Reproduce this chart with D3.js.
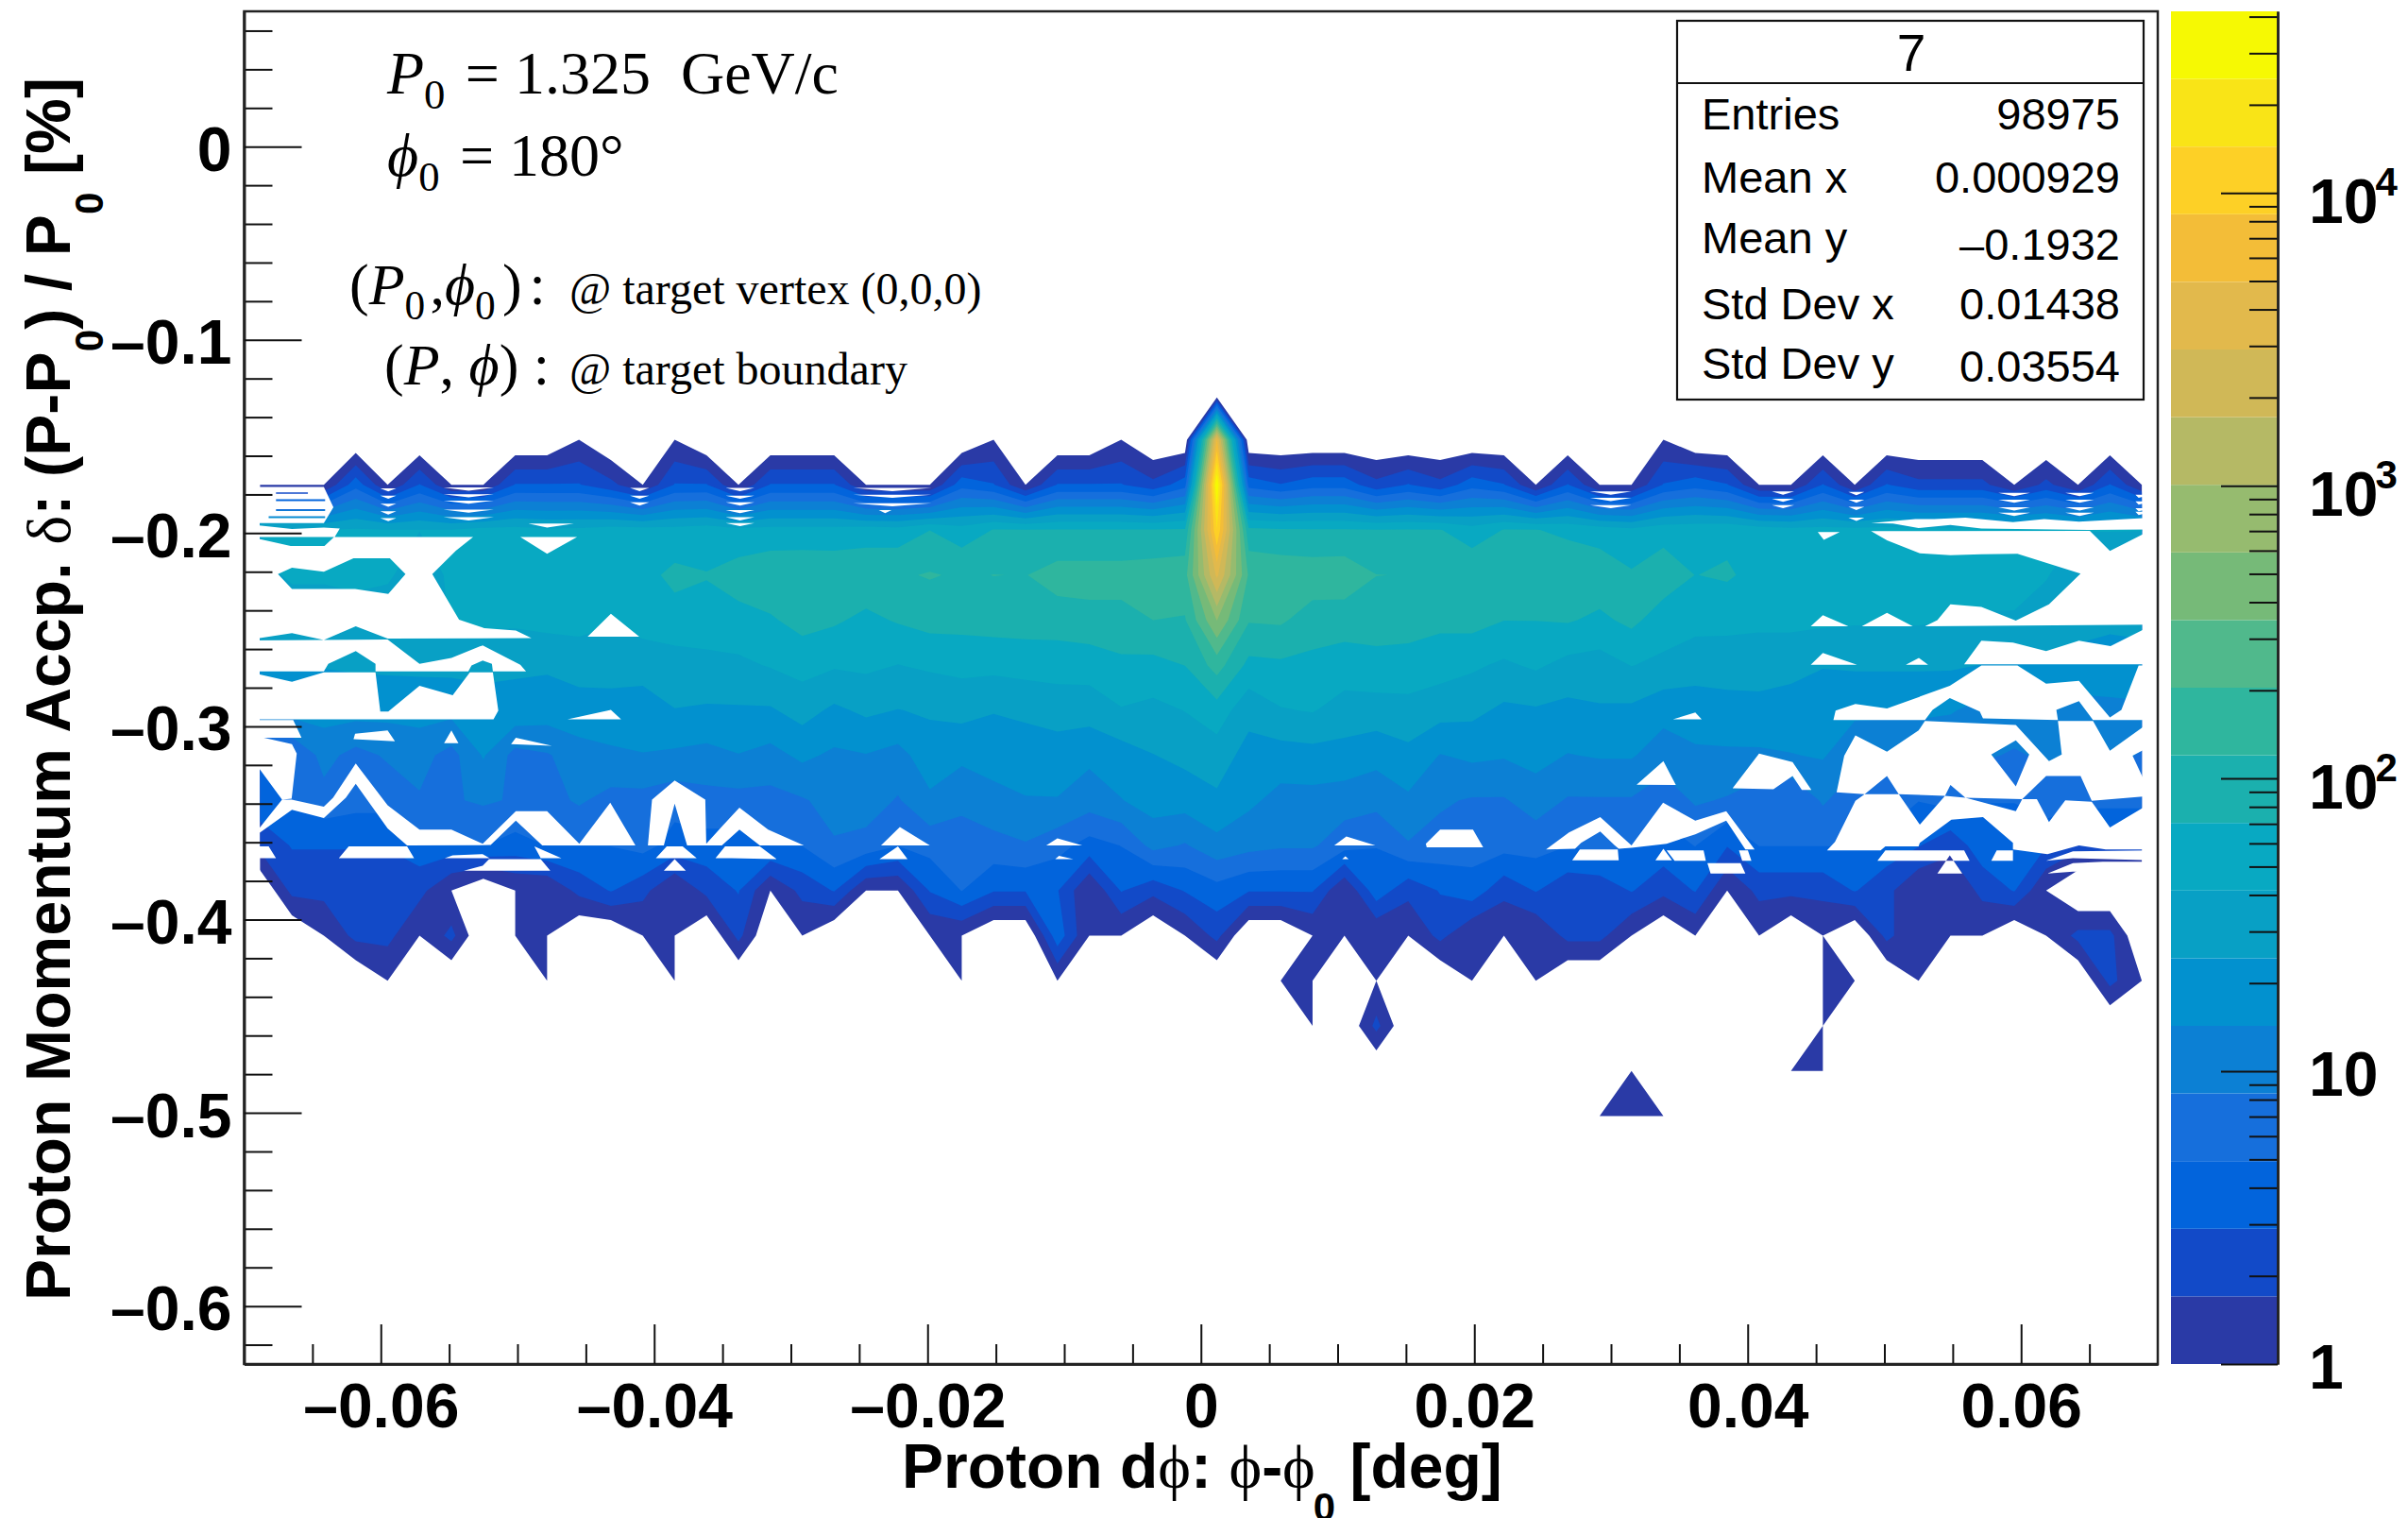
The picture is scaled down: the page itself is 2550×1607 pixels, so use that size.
<!DOCTYPE html>
<html>
<head>
<meta charset="utf-8">
<script src="https://cdn.jsdelivr.net/npm/d3@7"></script>
<style>
  body { margin: 0; background: #fff; }
  svg { display: block; }
</style>
</head>
<body>
<div id="chart"></div>
<script>
// bin contents (60 columns in dphi, rows counted from the top of the 30 delta bins)
var row09 = [0,0,0,0,0,0,0,0,0,0,1,0,0,1,0, 0,0,0,0,0,0,0,0,1,0,0,0,1,0,0,5000,0,0,0,0,0,0,0,0,0,0,0,0,0,1, 0,0,0,0,0,0,0,0,0,0,0,0,0,0,0];
var row10 = [1,1,1,4,1,3,1,1,3,3,3,2,1,3,3, 1,3,3,3,1,1,1,4,3,1,3,3,3,2,4,41000,4,3,4,4,2,3,2,4,3,1,3,1,1,3, 4,3,1,1,3,1,3,2,2,2,1,2,1,3,1];
var row11 = [42,42,42,44,42,42,42,50,50,45,46,52,52,50,55, 48,50,50,50,55,52,70,52,72,72,73,73,73,73,75,14000,80,75,74,74,72,72,72,52,72,72,62,55,47,58, 60,62,55,50,50,50,50,48,48,48,48,46,42,42,42];
var row12 = [35,45,45,50,45,30,46,55,60,55,58,60,60,80,72, 90,105,108,105,103,112,125,112,121,118,150,150,150,160,170,3300,190,175,165,170,121,118,115,110,118,118,110,100,75,95, 70,75,60,58,55,52,50,50,48,47,47,43,30,30,25];
var row13 = [30,30,30,30,30,30,43,45,46,50,52,44,52,58,60, 59,66,85,76,62,74,85,85,89,91,93,100,100,120,115,600,125,130,93,89,90,90,80,85,71,71,74,63,80,54, 50,50,48,48,46,44,44,44,42,40,40,32,30,28,28];
var row14 = [25,25,25,26,27,27,28,30,26,26,28,30,30,32,34, 37,43,50,44,46,41,45,48,48,50,50,52,63,60,71,150,61,64,61,55,59,56,52,45,38,45,35,33,42,37, 30,29,28,28,25,26,26,26,26,24,24,22,20,18,20];
var row15 = [18,18,18,18,17,18,17,18,21,19,21,20,19,24,23, 23,23,30,22,27,24,26,29,25,28,32,31,40,36,42,56,29,40,43,33,33,35,30,28,22,23,21,23,22,17, 19,21,22,20,18,16,16,16,15,12,11,11,12,13,13];
var row16 = [4,5,10,7,9,10,7,15,7,8,11,13,14,13,12, 14,12,16,13,14,12,19,16,18,17,18,16,19,24,28,32,20,19,20,20,17,21,14,16,15,17,14,15,15,11, 13,13,13,14,15,10,9,9,9,9,8,9,8,10,8];
var row17 = [4,5,7,6,6,8,8,9,8,7,9,7,7,6,7, 7,7,8,10,11,8,13,10,12,14,14,11,14,18,18,22,16,12,12,11,10,13,9,8,8,11,8,8,8,6, 9,8,6,5,9,6,7,5,6,5,5,7,6,6,6];
var row18 = [2,3,3,3,3,4,4,5,4,5,5,5,6,4,4, 4,5,5,8,7,5,6,6,7,8,6,4,5,10,8,12,10,9,9,6,5,8,7,6,6,6,5,6,5,4, 5,3,5,5,5,5,4,3,2,4,4,3,2,2,2];
var row19 = [0,2,2,2,2,2,1,0,1,1,2,3,2,1,2, 3,1,2,3,1,1,3,5,3,3,3,1,3,2,3,4,3,3,3,1,4,2,3,4,2,3,2,2,3,2, 3,1,2,2,2,3,2,1,1,2,3,1,0,0,0];
var row20 = [0,0,1,2,2,1,2,0,1,1,0,0,1,1,0, 2,0,1,0,0,0,1,1,0,0,4,1,1,0,1,2,0,0,1,1,1,1,2,1,1,1,2,2,1,0, 1,0,1,0,1,0,2,1,1,1,0,1,2,2,0];
var row21 = [0,0,0,0,1,0,0,0,0,1,0,0,0,1,0, 0,0,0,0,0,0,0,1,0,0,1,0,0,0,0,0,1,1,1,0,1,0,0,1,0,1,0,0,0,0, 0,0,0,0,1,1,0,1,0,0,0,0,0,2,1];
var row22 = [0,0,0,0,0,0,0,0,0,0,0,0,0,0,0, 0,0,0,0,0,0,0,0,0,0,0,0,0,0,0,0,0,0,1,0,2,0,0,0,0,0,0,0,0,0, 0,0,0,0,1,0,0,0,0,0,0,0,0,0,0];
var row23 = [0,0,0,0,0,0,0,0,0,0,0,0,0,0,0, 0,0,0,0,0,0,0,0,0,0,0,0,0,0,0,0,0,0,0,0,0,0,0,0,0,0,0,0,1,0, 0,0,0,1,1,0,0,0,0,0,0,0,0,0,0];
var row24 = [0,0,0,0,0,0,0,0,0,0,0,0,0,0,0, 0,0,0,0,0,0,0,0,0,0,0,0,0,0,0,0,0,0,0,0,0,0,0,0,0,0,0,1,1,1, 0,0,0,0,0,0,0,0,0,0,0,0,0,0,0];
var filledRows = [[9,row09],[10,row10],[11,row11],[12,row12],[13,row13],[14,row14],[15,row15],[16,row16],[17,row17],[18,row18],[19,row19],[20,row20],[21,row21],[22,row22],[23,row23],[24,row24]];

// gaps the contour fill leaves open, as [column, row] outlines
var emptyGaps = [
  [[0,10.05],[2,10.05],[2.3,10.5],[2,10.85],[0,10.85]],
  [[.5,10.17],[1.5,10.17],[1.5,10.2],[.5,10.2]],
  [[.5,10.32],[2.04,10.32],[2.04,10.36],[.5,10.36]],
  [[.5,10.54],[2.04,10.54],[2.04,10.58],[.5,10.58]],
  [[.27,10.7],[2.04,10.7],[2.04,10.74],[.27,10.74]],
  [[0,10.88],[1,10.98],[2,10.95],[2.5,10.97],[2.34,11.16],[0,11.16]],
  [[0,11.16],[.96,11.36],[2.02,11.36],[2.32,11.16],[6.68,11.16],[6.14,11.46],[5.4,11.98],[6.24,12.99],[7.03,13.18],[8.02,13.23],[8.51,13.4],[4,13.41],[3,13.14],[2,13.44],[1,13.29],[0,13.43]],
  [[.56,11.98],[1,11.84],[2,11.93],[2.93,11.63],[4.07,11.63],[4.56,11.98],[4.02,12.42],[2.98,12.31],[1,12.31]],
  [[8.16,11.16],[9.94,11.16],[9,11.53]],
  [[8.41,10.86],[9.84,10.86],[9,10.95]],
  [[0,13.45],[4,13.43],[5,13.97],[6,13.84],[6.98,13.56],[8.16,13.99],[8.34,14.14],[7.3,14.14],[7.27,13.97],[6.98,13.9],[6.63,14.01],[6.53,14.14],[3.62,14.14],[3.62,13.97],[3,13.69],[2.14,13.97],[2,14.14],[0,14.14]],
  [[0,14.16],[1,14.37],[2,14.16],[3.62,14.16],[3.77,15.03],[4.02,15.03],[5,14.46],[6.04,14.67],[6.58,14.16],[7.3,14.16],[7.47,15.01],[7.32,15.2],[0,15.2]],
  [[0,15.22],[1.04,15.22],[1.3,15.61],[.12,15.61],[1,15.75],[1.15,15.96],[.99,16.96],[.69,16.98],[0,16.03]],
  [[2.93,15.64],[2.98,15.52],[4,15.45],[4.23,15.69]],
  [[5.77,15.73],[6,15.45],[6.22,15.73]],
  [[7.87,15.75],[8.02,15.61],[9.15,15.79]],
  [[9.64,15.2],[11,14.99],[11.32,15.2]],
  [[10.27,13.37],[11,12.86],[11.89,13.37]],
  [[0,17.86],[.69,16.98],[.99,16.98],[2,17.14],[2.29,16.94],[3,16.18],[4,17.11],[5,17.65],[6,17.65],[6.98,17.96],[8.02,17.24],[9,17.24],[10.01,17.96],[10.98,17.05],[11.77,18],[8.85,18],[8.02,17.45],[7.23,17.99],[4.61,18],[4,17.62],[3,16.63],[2.69,16.94],[2,17.39],[1,17.21]],
  [[12.16,18],[12.29,16.98],[13,16.56],[13.96,16.98],[13.99,17.96],[14.48,17.58],[15.03,17.16],[15.93,17.65],[17.05,18],[15.67,18],[15.03,17.65],[14.48,18],[13.39,18],[13,17.07],[12.66,18]],
  [[0,18.02],[.27,18.02],[.5,18.28],[0,18.28]],
  [[2.47,18.28],[2.78,18.02],[4.61,18.02],[4.83,18.28]],
  [[5.79,18.28],[6.04,18.22],[6.98,18.19],[7.2,18.28]],
  [[8.6,18.02],[9.45,18.28],[8.8,18.28]],
  [[6.39,18.56],[6.98,18.45],[7.18,18.3],[8.8,18.3],[9.1,18.56]],
  [[12.41,18.28],[12.75,18.02],[13.25,18.02],[13.69,18.28]],
  [[12.66,18.56],[13,18.3],[13.35,18.56]],
  [[14.28,18.28],[14.58,18.02],[15.67,18.02],[16.2,18.3],[14.78,18.28]],
  [[19.47,18],[20.06,17.59],[21,18]],
  [[19.42,18.3],[20,18.02],[20.3,18.3]],
  [[24.65,18],[25,17.84],[25.78,18]],
  [[24.93,18.3],[25.05,18.23],[25.5,18.3]],
  [[33.68,18],[34.06,17.8],[34.97,18]],
  [[36.58,18.04],[36.55,17.96],[37,17.65],[38.03,17.65],[38.35,18.04]],
  [[33.93,18.3],[34.03,18.24],[34.13,18.3]],
  [[40.32,18.09],[41.04,17.71],[42.02,17.37],[43,18],[43.99,17.05],[45,17.45],[45.97,17.24],[46.86,18.09],[46.57,18.09],[45.97,17.45],[45,17.75],[44.1,17.96],[43,18.05],[42.6,18.07],[42.46,17.99],[42.02,17.69],[41.42,17.94],[41.23,18.07]],
  [[43.16,16.65],[44,16.13],[44.39,16.66]],
  [[44.3,15.2],[45,15.05],[45.2,15.2]],
  [[46.17,16.73],[47,15.96],[48.05,16.15],[48.64,16.77],[48.34,16.77],[48.05,16.46],[47.45,16.75]],
  [[48.84,11.05],[49.53,11.05],[49.03,11.22]],
  [[50.51,11.03],[57.37,11.02],[58,11.47],[59,11],[59,13.1],[52.2,13.14],[52.59,13],[53,12.65],[53.97,12.71],[55.05,13.01],[56.09,12.65],[57.08,11.97],[55.1,11.53],[53.97,11.54],[53,11.56],[52.04,11.52],[51.01,11.23]],
  [[51.2,10.86],[52,10.96],[53,10.89],[53.97,10.97],[57.33,11],[59,10.99],[59,10.73],[57.03,10.82],[55.94,10.76],[54.96,10.83],[53.47,10.73],[52.49,10.76],[51.9,10.76],[50.51,10.85]],
  [[48.62,13.14],[49,12.89],[49.8,13.14]],
  [[50.22,13.14],[51.01,12.84],[51.82,13.14]],
  [[48.62,13.99],[49,13.73],[50.07,13.99]],
  [[51.6,13.99],[52.01,13.84],[52.3,13.99]],
  [[53.43,13.98],[53.97,13.46],[54.96,13.5],[56,13.69],[57.03,13.46],[58.02,13.58],[59,13.12],[59,13.98]],
  [[53.97,14.01],[55.1,14.01],[56,14.41],[57.03,14.35],[58,15.16],[58.36,14.99],[58.9,14.01],[59,14.01],[59,15.22],[57.47,15.22],[57.03,14.8],[56.32,14.99],[56.37,15.22],[54.02,15.18],[53.92,15.03],[52.98,14.73],[52.44,14.99],[52.2,15.22],[49.33,15.22],[49.4,15.01],[50.02,14.86],[51.01,14.96],[52.98,14.46]],
  [[49.67,16.01],[50.02,15.56],[51.01,15.92],[52,15.45],[52.2,15.24],[55.05,15.33],[56.09,16.13],[56.49,15.98],[56.37,15.24],[57.47,15.24],[58,15.9],[59,15.24],[59,15.79],[58.71,16.01],[59,16.9],[57.43,17.01],[57.08,16.46],[56,16.46],[55.25,16.97],[53.47,16.94],[53,16.66],[52.83,16.9],[51.38,16.86],[51.01,16.46],[50.31,16.86],[49.43,16.82]],
  [[54.28,15.98],[55.05,15.67],[55.47,15.98],[55.05,16.69]],
  [[50.02,17.01],[50.31,16.86],[51.38,16.86],[52.04,17.54],[52.83,16.9],[53.47,16.94],[55.05,17.24],[55.25,16.97],[55.71,16.97],[56.09,17.48],[56.6,17],[57.43,17.03],[58,17.6],[59,17.05],[59,18.09],[57.87,18.09],[57.03,18],[56.04,18.19],[54.96,18.09],[54.96,17.94],[54.02,17.37],[53.03,17.43],[52.04,17.94],[52,18.02],[50.96,18.02],[50.81,18.11],[49.13,18.11],[49.38,17.92]],
  [[44.1,18.11],[45.26,18.11],[45.33,18.34],[44.35,18.34]],
  [[46.37,18.11],[46.65,18.11],[46.76,18.34],[46.47,18.34]],
  [[45.38,18.39],[46.42,18.39],[46.57,18.62],[45.48,18.62]],
  [[50.71,18.34],[50.96,18.11],[53.43,18.11],[53.6,18.34]],
  [[52.59,18.62],[52.98,18.22],[53.37,18.62]],
  [[54.28,18.34],[54.45,18.11],[54.96,18.11],[54.96,18.34]],
  [[41.14,18.33],[41.38,18.09],[42.57,18.09],[42.6,18.33]],
  [[43.75,18.33],[44,18.07],[44.27,18.33]],
  [[56,18.34],[56.84,18.13],[59,18.11],[59,18.33],[56.84,18.28]],
  [[56.04,18.62],[56.84,18.39],[57.78,18.36],[59,18.36],[59,18.6],[56.84,18.58]]
];

// thin white streaks in the valleys of the top edge: first column, last column, rows
var valleyStreaks = [
  [3.77,4.27,[10.08,10.24,10.42,10.59,10.74]],
  [5.75,7.33,[10.06,10.21,10.35,10.55,10.72]],
  [11.6,12.2,[10.07,10.24,10.39]],
  [14.6,15.5,[10.07,10.24,10.39,10.56,10.72,10.85]],
  [18.6,21.05,[10.07,10.22,10.41]],
  [19.4,19.8,[10.56]],
  [41.7,43,[10.15,10.29,10.45]],
  [47.4,48.1,[10.15,10.31,10.45]],
  [49.8,50.3,[10.16,10.33,10.49,10.73]],
  [54.5,55.5,[10.18,10.33,10.5,10.62]],
  [56.6,57.5,[10.18,10.33,10.5,10.62]],
  [58.8,59,[10.22,10.37,10.52,10.6]]
];

var levelColors = ["#2a3aa6","#124ac8","#0264dc","#166fdc","#0c80d4","#0291cf","#08a0c5","#08a9c2","#1bb0ae","#2fb69e",
  "#50b98c","#76ba78","#96bb6f","#b5b965","#d0b857","#e2b94c","#f3bd38","#fdd026","#f9e417","#f6f903"];
var maxCount = 41700;

var xMajor = [-0.06,-0.04,-0.02,0,0.02,0.04,0.06];
var xMinor = [-0.065,-0.055,-0.05,-0.045,-0.035,-0.03,-0.025,-0.015,-0.01,-0.005,0.005,0.01,0.015,0.025,0.03,0.035,0.045,0.05,0.055,0.065];
var yMajor = [0,-0.1,-0.2,-0.3,-0.4,-0.5,-0.6];
var yMinor = [0.06,0.04,0.02,-0.02,-0.04,-0.06,-0.08,-0.12,-0.14,-0.16,-0.18,-0.22,-0.24,-0.26,-0.28,-0.32,-0.34,-0.36,-0.38,-0.42,-0.44,-0.46,-0.48,-0.52,-0.54,-0.56,-0.58,-0.62];
var zMajor = [1,10,100,1000,10000];
var zMinor = [2,3,4,5,6,7,8,9,20,30,40,50,60,70,80,90,200,300,400,500,600,700,800,900,2000,3000,4000,5000,6000,7000,8000,9000,20000,30000,40000];

var statLabels = ["Entries","Mean x","Mean y","Std Dev x","Std Dev y"];
var statValues = ["98975","0.000929","\u20130.1932","0.01438","0.03554"];

var width = 2550, height = 1607;
var sans = "'Liberation Sans', Arial, sans-serif";
var serif = "'Liberation Serif', 'Times New Roman', serif";

function chart() {
    var svg = d3.select('#chart').append('svg')
        .attr('width', width)
        .attr('height', height);

    var x = d3.scaleLinear().domain([-0.07, 0.07]).range([258.5, 2285]);
    var y = d3.scaleLinear().domain([0.07, -0.63]).range([12, 1444]);
    var z = d3.scaleLog().domain([1, maxCount]).range([1444, 12]);

    // bins of the histogram on top of the data axes
    var xBin = d3.scaleLinear().domain([0, 60]).range(x.domain().map(x));
    var yBin = d3.scaleLinear().domain([0, 30]).range(y.domain().map(y));

    var logStep = Math.log10(maxCount) / levelColors.length;
    var thresholds = levelColors.map(function(c, i) { return i * logStep; });

    // empty bins sit a little under the lowest contour
    var grid = new Array(60 * 30).fill(-0.25);
    filledRows.forEach(function(r) {
        r[1].forEach(function(v, c) {
            if (v > 0) grid[r[0] * 60 + c] = Math.log10(v);
        });
    });

    var contours = d3.contours().size([60, 30]).thresholds(thresholds)(grid);

    var toPlot = d3.geoTransform({
        point: function(px, py) { this.stream.point(xBin(px), yBin(py)); }
    });
    var path = d3.geoPath(toPlot);

    // the fill stops at the first and last bin centres
    svg.append('clipPath').attr('id', 'binArea').append('rect')
        .attr('x', xBin(0.5)).attr('y', yBin(0.5))
        .attr('width', xBin(59.5) - xBin(0.5))
        .attr('height', yBin(29.5) - yBin(0.5));

    var plot = svg.append('g').attr('clip-path', 'url(#binArea)');

    plot.selectAll('path.level')
        .data(contours)
        .enter()
        .append('path')
        .attr('class', 'level')
        .attr('d', path)
        .attr('fill', function(d, i) { return levelColors[i]; });

    // gaps at the first and last column run a bit past the fill, so no colour fringe stays
    var gapLine = d3.line()
        .x(function(d) {
            var c = d[0] <= 0 ? -0.3 : (d[0] >= 59 ? 59.3 : d[0]);
            return xBin(c + 0.5);
        })
        .y(function(d) { return yBin(d[1] + 0.5); })
        .curve(d3.curveLinearClosed);

    var streakGaps = [];
    valleyStreaks.forEach(function(s) {
        s[2].forEach(function(r) {
            streakGaps.push([[s[0], r], [s[1], r], [(s[0] + s[1]) / 2, r + 0.07]]);
        });
    });

    svg.append('path')
        .attr('d', emptyGaps.concat(streakGaps).map(function(g) { return gapLine(g); }).join(' '))
        .attr('fill', '#fff')
        .attr('fill-rule', 'evenodd');

    // frame
    svg.append('rect')
        .attr('x', x.range()[0]).attr('y', y.range()[0])
        .attr('width', x.range()[1] - x.range()[0])
        .attr('height', y.range()[1] - y.range()[0])
        .attr('fill', 'none')
        .attr('stroke', '#222')
        .attr('stroke-width', 2.5);

    // axes, ticks point into the frame
    var xAxisG = svg.append('g').attr('transform', 'translate(0,' + y.range()[1] + ')');
    xAxisG.call(d3.axisBottom(x).tickValues(xMinor).tickSizeInner(-21).tickSizeOuter(0).tickFormat(''));
    var xAxisMajor = svg.append('g').attr('transform', 'translate(0,' + y.range()[1] + ')')
        .call(d3.axisBottom(x).tickValues(xMajor).tickSizeInner(-42).tickSizeOuter(0).tickFormat(fmtTick));
    xAxisMajor.selectAll('text').attr('y', 67).attr('dy', 0);

    var yAxisG = svg.append('g').attr('transform', 'translate(' + x.range()[0] + ',0)');
    yAxisG.call(d3.axisLeft(y).tickValues(yMinor).tickSizeInner(-30).tickSizeOuter(0).tickFormat(''));
    var yAxisMajor = svg.append('g').attr('transform', 'translate(' + x.range()[0] + ',0)')
        .call(d3.axisLeft(y).tickValues(yMajor).tickSizeInner(-61).tickSizeOuter(0).tickPadding(13).tickFormat(fmtTick));
    yAxisMajor.selectAll('text').attr('dy', 25);

    svg.selectAll('.tick line').attr('stroke', '#111').attr('stroke-width', 2);
    svg.selectAll('.domain').attr('stroke', '#222').attr('stroke-width', 2.5);
    svg.selectAll('.tick text')
        .attr('font-family', sans)
        .attr('font-weight', 'bold')
        .attr('font-size', 66)
        .attr('fill', '#000');

    function fmtTick(v) {
        if (v === 0) return '0';
        return (v < 0 ? '\u2013' : '') + Math.abs(v);
    }

    drawColorBar(svg, z, logStep);
    drawTitles(svg);
    drawAnnotations(svg);
    drawStats(svg);
}

function drawColorBar(svg, z, logStep) {
    var barLeft = 2299, barRight = 2412;

    svg.selectAll('rect.band')
        .data(levelColors)
        .enter()
        .append('rect')
        .attr('class', 'band')
        .attr('x', barLeft)
        .attr('width', barRight - barLeft)
        .attr('y', function(d, i) { return z(Math.pow(10, (i + 1) * logStep)); })
        .attr('height', function(d, i) {
            return z(Math.pow(10, i * logStep)) - z(Math.pow(10, (i + 1) * logStep));
        })
        .attr('fill', function(d) { return d; });

    svg.append('g').attr('transform', 'translate(' + barRight + ',0)')
        .call(d3.axisLeft(z).tickValues(zMinor).tickSizeInner(30).tickSizeOuter(0).tickFormat(''));

    var major = svg.append('g').attr('transform', 'translate(' + barRight + ',0)')
        .call(d3.axisRight(z).tickValues(zMajor).tickSizeInner(-60).tickSizeOuter(0).tickPadding(33).tickFormat(''));

    major.selectAll('.tick text').each(function(v) {
        var t = d3.select(this)
            .attr('dy', v >= 100 ? 31 : 25)
            .attr('font-family', sans)
            .attr('font-weight', 'bold')
            .attr('font-size', 66)
            .attr('fill', '#000');
        if (v < 100) {
            t.text(v);
        } else {
            t.text('10');
            t.append('tspan')
                .attr('font-size', 42)
                .attr('dy', -29)
                .attr('dx', -3)
                .text(Math.round(Math.log10(v)));
        }
    });

    svg.selectAll('.tick line').attr('stroke', '#111').attr('stroke-width', 2);
    svg.selectAll('.domain').attr('stroke', '#222').attr('stroke-width', 2.5);
}

function drawTitles(svg) {
    var xt = svg.append('text')
        .attr('x', 955).attr('y', 1575)
        .attr('font-family', sans).attr('font-weight', 'bold').attr('font-size', 66);
    xt.append('tspan').text('Proton d');
    xt.append('tspan').attr('font-family', serif).attr('font-weight', 'normal').text('\u03d5');
    xt.append('tspan').text(': ');
    xt.append('tspan').attr('font-family', serif).attr('font-weight', 'normal').text('\u03d5');
    xt.append('tspan').text('-');
    xt.append('tspan').attr('font-family', serif).attr('font-weight', 'normal').text('\u03d5');
    xt.append('tspan').attr('font-size', 42).attr('dy', 35).attr('dx', -2).text('0');
    xt.append('tspan').attr('dy', -35).attr('dx', -3).text(' [deg]');

    var yt = svg.append('text')
        .attr('transform', 'translate(74,1377) rotate(-90)')
        .attr('letter-spacing', 0.15)
        .attr('font-family', sans).attr('font-weight', 'bold').attr('font-size', 66);
    yt.append('tspan').text('Proton Momentum Accp. ');
    yt.append('tspan').attr('font-family', serif).attr('font-weight', 'normal').text('\u03b4');
    yt.append('tspan').text(': (P-P');
    yt.append('tspan').attr('font-size', 42).attr('dy', 35).text('0');
    yt.append('tspan').attr('dy', -35).text(') / P');
    yt.append('tspan').attr('font-size', 42).attr('dy', 35).text('0');
    yt.append('tspan').attr('dy', -35).text(' [%]');
}

function drawAnnotations(svg) {
    function note(px, py, size) {
        return svg.append('text').attr('x', px).attr('y', py)
            .attr('font-family', serif).attr('font-size', size);
    }
    function italicSub(t, main, size) {
        t.append('tspan').attr('font-style', 'italic').text(main);
        t.append('tspan').attr('font-size', size * 0.7).attr('dy', size * 0.25).text('0');
        t.append('tspan').attr('dy', -size * 0.25).text('\u200a');
    }

    var a = note(410, 99, 64);
    italicSub(a, 'P', 64);
    a.append('tspan').text(' = 1.325 \u00a0GeV/c');

    var b = note(410, 186, 64);
    italicSub(b, '\u03d5', 64);
    b.append('tspan').text(' = 180\u00b0');

    var c = note(370, 322, 62);
    c.append('tspan').text('(');
    italicSub(c, 'P', 62);
    c.append('tspan').text(',');
    c.append('tspan').attr('dx', 6).text('');
    italicSub(c, '\u03d5', 62);
    c.append('tspan').attr('dx', 2).text(')');
    c.append('tspan').attr('dx', 8).text(':');
    note(603, 322, 48).text('@ target vertex (0,0,0)');

    var e = note(407, 407, 62);
    e.append('tspan').text('(');
    e.append('tspan').attr('font-style', 'italic').text('P');
    e.append('tspan').text(', ');
    e.append('tspan').attr('font-style', 'italic').text('\u03d5');
    e.append('tspan').text(') :');
    note(603, 407, 48).text('@ target boundary');
}

function drawStats(svg) {
    var left = 1776, right = 2270, top = 22, bottom = 423, divider = 88;

    svg.append('rect')
        .attr('x', left).attr('y', top)
        .attr('width', right - left).attr('height', bottom - top)
        .attr('fill', '#fff').attr('stroke', '#111').attr('stroke-width', 2.2);
    svg.append('line')
        .attr('x1', left).attr('x2', right)
        .attr('y1', divider).attr('y2', divider)
        .attr('stroke', '#111').attr('stroke-width', 2);

    svg.append('text')
        .attr('x', 2024).attr('y', 75)
        .attr('text-anchor', 'middle')
        .attr('font-family', sans).attr('font-size', 55)
        .text('7');

    var labelY = [137, 204, 268, 338, 401];
    var valueY = [137, 204, 275, 338, 404];

    svg.selectAll('text.statLabel')
        .data(statLabels)
        .enter()
        .append('text')
        .attr('class', 'statLabel')
        .attr('x', 1802)
        .attr('y', function(d, i) { return labelY[i]; })
        .attr('font-family', sans).attr('font-size', 47)
        .text(function(d) { return d; });

    svg.selectAll('text.statValue')
        .data(statValues)
        .enter()
        .append('text')
        .attr('class', 'statValue')
        .attr('x', 2245)
        .attr('y', function(d, i) { return valueY[i]; })
        .attr('text-anchor', 'end')
        .attr('font-family', sans).attr('font-size', 47)
        .text(function(d) { return d; });
}

chart();
</script>
</body>
</html>
